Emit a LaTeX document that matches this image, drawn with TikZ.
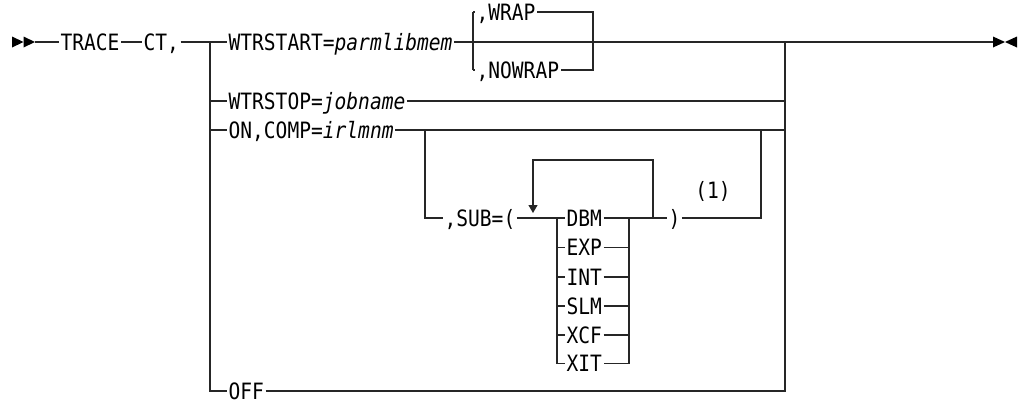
\documentclass[tikz,border=0pt]{standalone}
\usepackage{fontspec}
\newfontfamily\dmono[FakeStretch=0.87]{DejaVu Sans Mono}
\usetikzlibrary{arrows.meta}
\begin{document}
\begin{tikzpicture}[x=1pt,y=-1pt,line width=1.2pt,
  lbl/.style={font=\dmono\fontsize{22.5}{24}\selectfont, inner xsep=1pt, inner ysep=0pt,
              text height=16.4pt, text depth=0pt, anchor=west},
  rail/.style={draw=black!85, line width=1.2pt},
  tip/.style={fill=black, draw=none}]
\useasboundingbox (0,0) rectangle (1021,400);

% start / end markers
\coordinate (s0) at (12,42);
\coordinate (s1) at (35,42);
\coordinate (e0) at (993,42);
\coordinate (e1) at (1017,42);
\fill[tip] (12,36.5) -- (23.5,42) -- (12,47.5) -- cycle;
\fill[tip] (23.5,36.5) -- (35,42) -- (23.5,47.5) -- cycle;
\fill[tip] (993,36.5) -- (1005,42) -- (993,47.5) -- cycle;
\fill[tip] (1017,36.5) -- (1005,42) -- (1017,47.5) -- cycle;

% main line labels
\node[lbl] (trace) at (59,42) {TRACE};
\node[lbl] (ct) at (142,42) {CT,};
\coordinate (jL) at (210,42);
\coordinate (jR) at (785,42);

\node[lbl] (wstart) at (227,42) {WTRSTART=\textit{parmlibmem}};
\coordinate (wL) at (473,42);
\coordinate (wR) at (593,42);
\node[lbl] (wrap) at (475,12) {,WRAP};
\node[lbl] (nowrap) at (475,70) {,NOWRAP};

\node[lbl] (wstop) at (227,101) {WTRSTOP=\textit{jobname}};
\node[lbl] (on) at (227,130) {ON,COMP=\textit{irlmnm}};
\coordinate (oL) at (425,130);
\coordinate (oR) at (761,130);
\node[lbl] (sub) at (443,218) {,SUB=(};
\coordinate (lpL) at (533,218);
\coordinate (lpR) at (653,218);
\coordinate (lpTL) at (533,160);
\coordinate (lpTR) at (653,160);
\coordinate (lpTip) at (533,213);
\coordinate (cL) at (557,218);
\coordinate (cR) at (629,218);
\node[lbl] (dbm) at (565,218) {DBM};
\node[lbl] (exp) at (565,247.5) {EXP};
\node[lbl] (int) at (565,277) {INT};
\node[lbl] (slm) at (565,306) {SLM};
\node[lbl] (xcf) at (565,335) {XCF};
\node[lbl] (xit) at (565,363.5) {XIT};
\node[lbl] (par) at (667,218) {)};
\node[lbl,anchor=center] (note) at (713,190) {(1)};
\node[lbl] (off) at (227,391) {OFF};

% main rail
\draw[rail] (s1) -- (trace.west);
\draw[rail] (trace.east) -- (ct.west);
\draw[rail] (ct.east) -- (jL) -- (wstart.west);
\draw[rail] (wstart.east) -- (wL) -- (wR) -- (jR) -- (e0);
\draw[rail] (jL) -- (jL |- off.west) -- (off.west);

% WRAP / NOWRAP
\draw[rail] (wL |- wrap.west) -- (wL |- nowrap.west);
\draw[rail] (wL |- wrap.west) -- (wrap.west);
\draw[rail] (wL |- nowrap.west) -- (nowrap.west);
\draw[rail] (wrap.east) -- (wR |- wrap.east) -- (wR |- nowrap.east) -- (nowrap.east);

% WTRSTOP, OFF
\draw[rail] (jL |- wstop.west) -- (wstop.west);
\draw[rail] (wstop.east) -- (jR |- wstop.east);
\draw[rail] (off.east) -- (jR |- off.east) -- (jR);

% ON,COMP
\draw[rail] (jL |- on.west) -- (on.west);
\draw[rail] (on.east) -- (oL) -- (oR) -- (jR |- on.east);
\draw[rail] (oL) -- (oL |- sub.west) -- (sub.west);
\draw[rail] (sub.east) -- (lpL) -- (cL) -- (dbm.west);
\draw[rail] (dbm.east) -- (cR) -- (lpR) -- (par.west);
\draw[rail] (par.east) -- (oR |- par.east) -- (oR);

% repeat loop
\draw[rail,-{Triangle[width=9pt,length=8pt]}] (lpR) -- (lpTR) -- (lpTL) -- (lpTip);

% choice column
\draw[rail] (cL) -- (cL |- xit.west) -- (xit.west);
\draw[rail] (cR) -- (cR |- xit.east) -- (xit.east);
\foreach \n in {exp,int,slm,xcf} {
  \draw[rail] (cL |- \n.west) -- (\n.west);
  \draw[rail] (\n.east) -- (cR |- \n.east);
}
\end{tikzpicture}
\end{document}
